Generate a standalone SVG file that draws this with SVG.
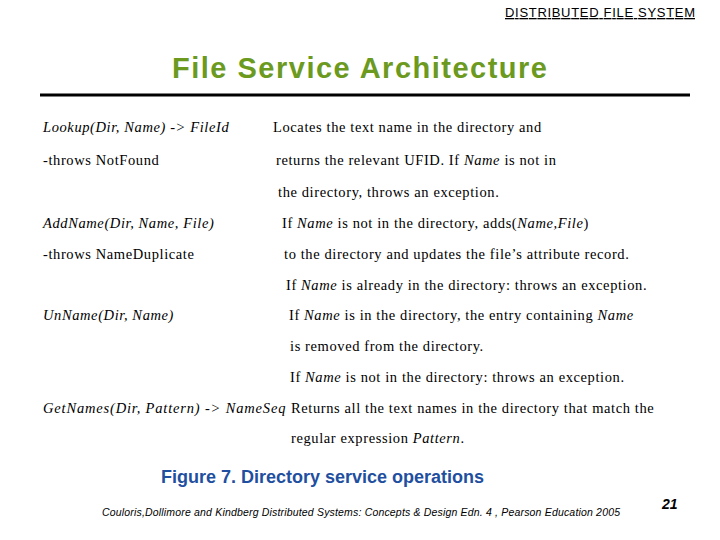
<svg xmlns="http://www.w3.org/2000/svg" width="720" height="540" viewBox="0 0 720 540">
<style>
.t{font-family:"Liberation Serif",serif;font-size:14.5px;fill:#000;letter-spacing:0.6px}
.i{font-style:italic}
</style>
<rect width="720" height="540" fill="#fff"/>
<text x="505" y="17" textLength="190" font-family="Liberation Sans,sans-serif" font-size="13" text-decoration="underline">DISTRIBUTED FILE SYSTEM</text>
<text x="172" y="78" textLength="375" font-family="Liberation Sans,sans-serif" font-size="29" font-weight="bold" fill="#6b9a1f">File Service Architecture</text>
<line x1="40" y1="95" x2="690" y2="95" stroke="#000" stroke-width="3"/>
<g class="t">
<text x="43" y="132" class="i">Lookup(Dir, Name) -&gt; FileId</text>
<text x="273" y="132">Locates the text name in the directory and</text>
<text x="43" y="165">-throws NotFound</text>
<text x="276" y="165">returns the relevant UFID. If <tspan class="i">Name</tspan> is not in</text>
<text x="278" y="197">the directory, throws an exception.</text>
<text x="43" y="228" class="i">AddName(Dir, Name, File)</text>
<text x="282" y="228">If <tspan class="i">Name</tspan> is not in the directory, adds(<tspan class="i">Name,File</tspan>)</text>
<text x="43" y="259">-throws NameDuplicate</text>
<text x="284" y="259">to the directory and updates the file’s attribute record.</text>
<text x="286" y="290">If <tspan class="i">Name</tspan> is already in the directory: throws an exception.</text>
<text x="43" y="320" class="i">UnName(Dir, Name)</text>
<text x="289" y="320">If <tspan class="i">Name</tspan> is in the directory, the entry containing <tspan class="i">Name</tspan></text>
<text x="290" y="351">is removed from the directory.</text>
<text x="290" y="382">If <tspan class="i">Name</tspan> is not in the directory: throws an exception.</text>
<text x="43" y="413" class="i" textLength="243">GetNames(Dir, Pattern) -&gt; NameSeq</text>
<text x="291" y="413">Returns all the text names in the directory that match the</text>
<text x="291" y="443">regular expression <tspan class="i">Pattern</tspan>.</text>
</g>
<text x="161" y="483" textLength="323" font-family="Liberation Sans,sans-serif" font-size="18" font-weight="bold" fill="#1f4f9f">Figure 7. Directory service operations</text>
<text x="102" y="516" textLength="518" font-family="Liberation Sans,sans-serif" font-size="10.5" font-style="italic">Couloris,Dollimore and Kindberg  Distributed Systems: Concepts &amp; Design  Edn. 4 , Pearson Education 2005</text>
<text x="662" y="509" font-family="Liberation Sans,sans-serif" font-size="14" font-weight="bold" font-style="italic">21</text>
</svg>
